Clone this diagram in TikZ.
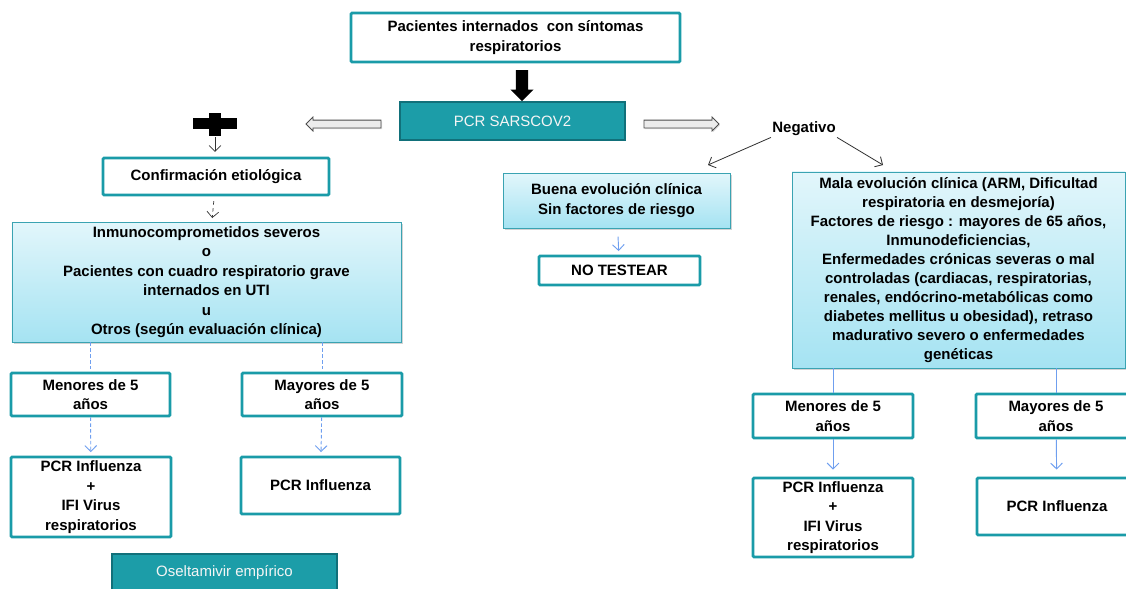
\documentclass[tikz,border=0pt]{standalone}
\usepackage{fontspec}
\setmainfont{Liberation Sans}
\usetikzlibrary{shapes.arrows,arrows.meta,shadows}
\definecolor{tealline}{HTML}{1A9BA8}
\definecolor{tealfill}{HTML}{1C9DA8}
\definecolor{tealdark}{HTML}{11707A}
\definecolor{bluetop}{HTML}{E2F6FB}
\definecolor{bluebot}{HTML}{A5E3F2}
\definecolor{blueline}{HTML}{3AA3B2}
\definecolor{arrowblue}{HTML}{6F9FEF}

\begin{document}
\begin{tikzpicture}[x=0.03cm,y=-0.03cm]
\tikzstyle{every node}=[font=\fontsize{12.8}{16.6}\selectfont\bfseries, align=center, inner sep=1pt]
\tikzstyle{tealbox}=[draw=tealline, line width=2.4pt, fill=white, rounded corners=1pt]
\tikzstyle{bluebox}=[draw=blueline, line width=0.8pt, top color=bluetop, bottom color=bluebot, drop shadow={opacity=0.35, shadow xshift=0.05cm, shadow yshift=-0.06cm}]
\tikzstyle{fillbox}=[draw=tealdark, line width=1.5pt, fill=tealfill, text=white!92!gray, font=\fontsize{12.8}{16.6}\selectfont]
\tikzstyle{hollow}=[single arrow, draw=gray!60!black, fill=gray!15, line width=0.7pt, inner sep=0.105cm, single arrow head extend=0.09cm, minimum height=2.25cm, drop shadow={opacity=0.25, shadow xshift=0.03cm, shadow yshift=-0.04cm}]
\tikzstyle{barb}=[-{Straight Barb[length=5pt,width=10pt]}]
\tikzstyle{bluedash}=[draw=arrowblue, line width=0.8pt, dash pattern=on 3pt off 2pt]
\tikzstyle{blueln}=[draw=arrowblue, line width=0.8pt]
\useasboundingbox (0,0) rectangle (1126,588);
\clip (0,0) rectangle (1126,588);

\node (top) [tealbox, minimum width=9.87cm, minimum height=1.47cm] at (515.5,37.5) {Pacientes internados~ con síntomas\\respiratorios};
\node (down) [single arrow, fill=black, shape border rotate=270, inner sep=0.18cm, single arrow head extend=0.16cm, minimum height=0.93cm] at (522,82.5) {};
\node (pcr) [fillbox, minimum width=6.75cm, minimum height=1.14cm] at (512.5,121) {PCR SARSCOV2};
\node (lft) [hollow, shape border rotate=180] at (345.5,124) {};
\node (rgt) [hollow] at (679.5,124) {};

\fill (193,118) rectangle (237,129);
\fill (209,113) rectangle (221,136);
\coordinate (plusb) at (215,137);
\node (conf) [tealbox, minimum width=6.78cm, minimum height=1.11cm] at (216,176.5) {Confirmación etiológica};
\node (inm) [bluebox, minimum width=11.67cm, minimum height=3.6cm] at (206.5,282) {Inmunocomprometidos severos\\o\\Pacientes con cuadro respiratorio grave\\internados en UTI\\u\\Otros (según evaluación clínica)};
\node (menl) [tealbox, minimum width=4.77cm, minimum height=1.29cm] at (90.5,394.5) {Menores de 5\\años};
\node (mayl) [tealbox, minimum width=4.8cm, minimum height=1.29cm] at (322,394.5) {Mayores de 5\\años};
\node (pcril) [tealbox, minimum width=4.8cm, minimum height=2.4cm] at (91,497) {PCR Influenza\\+\\IFI Virus\\respiratorios};
\node (pcrl) [tealbox, minimum width=4.77cm, minimum height=1.71cm] at (320.5,485.5) {PCR Influenza};
\node (osel) [fillbox, minimum width=6.75cm, minimum height=1.14cm] at (224.5,573) {Oseltamivir empírico};

\node (neg) at (804,129) {Negativo};
\coordinate (negl) at (708,165);
\coordinate (negr) at (883,165);
\node (buena) [bluebox, minimum width=6.81cm, minimum height=1.65cm] at (616.5,200.5) {Buena evolución clínica\\Sin factores de riesgo};
\node (notest) [tealbox, minimum width=4.83cm, minimum height=0.87cm] at (619.5,270.5) {NO TESTEAR};
\node (mala) [bluebox, minimum width=9.99cm, minimum height=5.88cm, font=\fontsize{12.8}{16.2}\selectfont\bfseries] at (958.5,270) {Mala evolución clínica (ARM, Dificultad\\respiratoria en desmejoría)\\Factores de riesgo : mayores de 65 años,\\Inmunodeficiencias,\\Enfermedades crónicas severas o mal\\controladas (cardiacas, respiratorias,\\renales, endócrino-metabólicas como\\diabetes mellitus u obesidad), retraso\\madurativo severo o enfermedades\\genéticas};
\node (menr) [tealbox, minimum width=4.8cm, minimum height=1.32cm] at (833,416) {Menores de 5\\años};
\node (mayr) [tealbox, minimum width=4.8cm, minimum height=1.32cm] at (1056,416) {Mayores de 5\\años};
\node (pcrir) [tealbox, minimum width=4.8cm, minimum height=2.37cm] at (833,517.5) {PCR Influenza\\+\\IFI Virus\\respiratorios};
\node (pcrr) [tealbox, minimum width=4.8cm, minimum height=1.71cm] at (1057,506.5) {PCR Influenza};

\draw[barb, draw=black!80, line width=0.6pt, shorten >=4pt] (plusb) -- (plusb |- conf.north);
\draw[barb, draw=black!80, line width=0.6pt, dashed, shorten <=4pt, shorten >=3pt] (conf) -- (inm);
\draw[bluedash] (inm.south -| menl.north) -- (menl.north);
\draw[bluedash] (inm.south -| mayl.north) -- (mayl.north);
\draw[bluedash, barb, shorten >=3pt] (menl) -- (pcril);
\draw[bluedash, barb, shorten >=3pt] (mayl) -- (pcrl);
\draw[barb, draw=black!80, line width=0.7pt] (neg.south west) -- (negl);
\draw[barb, draw=black!80, line width=0.7pt] (neg.south east) -- (negr);
\draw[blueln, barb, shorten <=7pt, shorten >=3pt] (buena) -- (notest);
\draw[blueln] (mala.south -| menr.north) -- (menr.north);
\draw[blueln] (mala.south -| mayr.north) -- (mayr.north);
\draw[blueln, barb, shorten >=6pt] (menr) -- (pcrir);
\draw[blueln, barb, shorten >=6pt] (mayr) -- (pcrr);
\end{tikzpicture}
\end{document}
